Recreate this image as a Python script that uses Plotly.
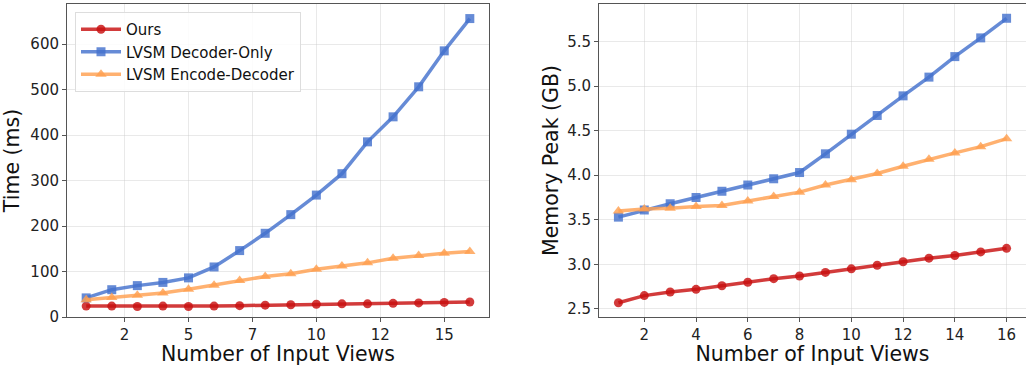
import plotly.graph_objects as go

views = list(range(1, 17))

time_ours = [24, 24, 23, 24, 23, 24, 25, 26, 27, 28, 29, 29, 30, 31, 32, 33]
time_dec_only = [42, 60, 69, 76, 86, 110, 146, 184, 225, 268, 315, 385, 440, 506, 585, 656]
time_enc_dec = [38, 43, 48, 53, 61, 70, 80, 89, 95, 105, 112, 119, 129, 135, 140, 144]

mem_ours = [2.57, 2.65, 2.69, 2.72, 2.76, 2.80, 2.84, 2.87, 2.91, 2.95, 2.99, 3.03, 3.07, 3.10, 3.14, 3.18]
mem_dec_only = [3.53, 3.61, 3.68, 3.75, 3.82, 3.89, 3.96, 4.03, 4.24, 4.46, 4.67, 4.89, 5.10, 5.33, 5.54, 5.76]
mem_enc_dec = [3.60, 3.62, 3.63, 3.65, 3.66, 3.71, 3.76, 3.81, 3.89, 3.95, 4.02, 4.10, 4.18, 4.25, 4.32, 4.41]

left_tickvals = [2.5, 5, 7.5, 10, 12.5, 15]
left_ticktext = ["2", "5", "7", "10", "12", "15"]
right_tickvals = [2, 4, 6, 8, 10, 12, 14, 16]
time_ticks = [0, 100, 200, 300, 400, 500, 600]
mem_ticks = [2.5, 3.0, 3.5, 4.0, 4.5, 5.0, 5.5]

names = ["Ours", "LVSM Decoder-Only", "LVSM Encode-Decoder"]
colors = ["rgba(200,16,16,0.82)", "rgba(68,114,205,0.82)", "rgba(255,160,80,0.82)"]
symbols = ["circle", "square", "triangle-up"]
msizes = [9, 9, 10]

FONT = "DejaVu Sans"
fig = go.Figure()

for i, ys in enumerate([time_ours, time_dec_only, time_enc_dec]):
    fig.add_trace(go.Scatter(x=views, y=ys, mode="lines+markers", name=names[i],
                             line=dict(color=colors[i], width=3.5),
                             marker=dict(color=colors[i], symbol=symbols[i], size=msizes[i]),
                             xaxis="x", yaxis="y", showlegend=True))
for i, ys in enumerate([mem_ours, mem_dec_only, mem_enc_dec]):
    fig.add_trace(go.Scatter(x=views, y=ys, mode="lines+markers", name=names[i],
                             line=dict(color=colors[i], width=3.5),
                             marker=dict(color=colors[i], symbol=symbols[i], size=msizes[i]),
                             xaxis="x2", yaxis="y2", showlegend=False))

axis_common = dict(showline=True, linecolor="#555555", linewidth=1, mirror=True,
                   showgrid=True, gridcolor="rgba(200,200,200,0.4)", gridwidth=1,
                   ticks="outside", ticklen=4, tickcolor="#555555", tickwidth=1,
                   tickfont=dict(family=FONT, size=15, color="#222222"),
                   zeroline=False, automargin=False)
title_font = dict(family=FONT, size=20.5, color="#111111")

fig.update_layout(
    width=1026, height=366,
    margin=dict(l=0, r=0, t=0, b=0),
    paper_bgcolor="white", plot_bgcolor="white",
    font=dict(family=FONT, color="#222222"),
    xaxis=dict(domain=[67/1026, 489/1026], range=[0.25, 16.75],
               tickvals=left_tickvals, ticktext=left_ticktext,
               title=dict(text="Number of Input Views", font=title_font, standoff=4),
               anchor="y", **axis_common),
    yaxis=dict(domain=[1 - 317/366, 1 - 4/366], range=[0, 688],
               tickvals=time_ticks,
               title=dict(text="Time (ms)", font=title_font, standoff=5),
               anchor="x", **axis_common),
    xaxis2=dict(domain=[599/1026, 1.0], range=[0.25, 16.75],
                tickvals=right_tickvals,
                title=dict(text="Number of Input Views", font=title_font, standoff=4),
                anchor="y2", **axis_common),
    yaxis2=dict(domain=[1 - 317/366, 1 - 4/366], range=[2.41, 5.92],
                tickvals=mem_ticks, tickformat=".1f",
                title=dict(text="Memory Peak (GB)", font=title_font, standoff=2),
                anchor="x2", **axis_common),
    legend=dict(x=75/1026, y=1 - 12/366, xanchor="left", yanchor="top",
                bgcolor="rgba(255,255,255,0.85)", bordercolor="#dddddd", borderwidth=1,
                font=dict(family=FONT, size=15, color="#111111"),
                itemwidth=40, tracegroupgap=0),
)

fig.write_html("out.html", config={"displayModeBar": False},
               post_script="document.body.style.margin='0';document.body.style.padding='0';document.body.style.overflow='hidden';")
